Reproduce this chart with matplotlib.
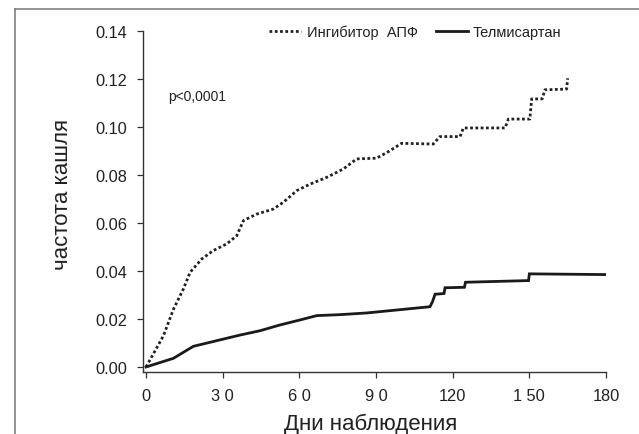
import matplotlib
matplotlib.use('Agg')
import matplotlib.pyplot as plt
from matplotlib.lines import Line2D

plt.rcParams['font.family'] = ['Liberation Sans', 'DejaVu Sans']

# данные
ace_days = [0, 6.8, 10.7, 14.6, 17.2, 21.8, 26.3, 31.6, 35.5, 38.1, 43.3, 49.8, 53.7, 59.0,
            64.2, 70.7, 77.2, 82.4, 90.2, 94.8, 100.0, 112.4, 115.0, 122.9, 124.2, 140.5,
            141.8, 150.2, 150.9, 155.0, 156.1, 164.6, 165.0]
ace_vals = [0.0, 0.013, 0.024, 0.0325, 0.0394, 0.045, 0.0485, 0.0513, 0.0547, 0.061, 0.0637,
            0.0658, 0.0686, 0.0735, 0.0762, 0.079, 0.0825, 0.0867, 0.087, 0.0897, 0.0932,
            0.0929, 0.096, 0.096, 0.0996, 0.0996, 0.1033, 0.1033, 0.1117, 0.1117, 0.1155,
            0.1158, 0.1203]

telm_days = [0, 10.7, 18.5, 29.0, 36.8, 44.6, 52.4, 60.3, 66.8, 75.9, 86.3, 111.1, 112.1,
             113.1, 116.6, 117.0, 124.6, 125.0, 149.7, 150.0, 180.0]
telm_vals = [0.0, 0.0036, 0.0086, 0.0113, 0.0133, 0.0151, 0.0175, 0.0196, 0.0214, 0.0218,
             0.0225, 0.0251, 0.0272, 0.0303, 0.0306, 0.033, 0.0332, 0.0353, 0.036, 0.0388,
             0.0385]

x_ticks = [0, 30, 60, 90, 120, 150, 180]
x_labels = ['0', '3 0', '6 0', '9 0', '120', '1 50', '180']
y_ticks = [0.00, 0.02, 0.04, 0.06, 0.08, 0.10, 0.12, 0.14]
y_labels = ['0.00', '0.02', '0.04', '0.06', '0.08', '0.10', '0.12', '0.14']

fig = plt.figure(figsize=(6.39, 4.35), dpi=100)
ax = fig.add_axes([143 / 639, 1 - 373 / 435, (606 - 143) / 639, (373 - 32) / 435])

dot_style = (0, (1, 0.9))
ax.plot(ace_days, ace_vals, color='#222222', lw=2.0, ls=dot_style, dash_capstyle='butt')
ax.plot(telm_days, telm_vals, color='#1a1a1a', lw=2.0, solid_joinstyle='miter')

ax.set_xlim(-1.2, 180)
ax.set_ylim(-0.0021, 0.14)
ax.set_xticks(x_ticks)
ax.set_xticklabels(x_labels)
ax.set_yticks(y_ticks)
ax.set_yticklabels(y_labels)

for s in ['top', 'right']:
    ax.spines[s].set_visible(False)
for s in ['left', 'bottom']:
    ax.spines[s].set_color('#333333')
    ax.spines[s].set_linewidth(1.0)
ax.tick_params(direction='out', length=4.3, width=0.9, color='#333333',
               labelsize=11.8, labelcolor='#222222', pad=7)

# подписи осей
fig.text(63 / 639, 1 - 195 / 435, 'частота кашля', rotation=90, fontsize=16,
         ha='center', va='center', color='#222222')
fig.text(371 / 639, 1 - 424 / 435, 'Дни наблюдения', fontsize=16,
         ha='center', va='center', color='#222222')

ax.text(168 / 639, 1 - 97 / 435, 'p<0,0001', transform=fig.transFigure, fontsize=10,
        ha='left', va='center', color='#222222')

# легенда
handles = [Line2D([], [], color='#222222', lw=2.0, ls=dot_style, dash_capstyle='butt'),
           Line2D([], [], color='#1a1a1a', lw=2.0)]
fig.legend(handles, ['Ингибитор  АПФ', 'Телмисартан'], loc='center',
           bbox_to_anchor=(415.5 / 639, 1 - 33 / 435), ncol=2, frameon=False,
           fontsize=10.5, handlelength=2.2, handletextpad=0.35, columnspacing=1.25,
           labelcolor='#222222')

# рамка
fig.add_artist(Line2D([15 / 639, 1.0], [1 - 10 / 435, 1 - 10 / 435],
                      transform=fig.transFigure, color='#777777', lw=1.1))
fig.add_artist(Line2D([15 / 639, 15 / 639], [1 - 10 / 435, 0.0],
                      transform=fig.transFigure, color='#777777', lw=1.1))

plt.savefig('out.png', dpi=100)
